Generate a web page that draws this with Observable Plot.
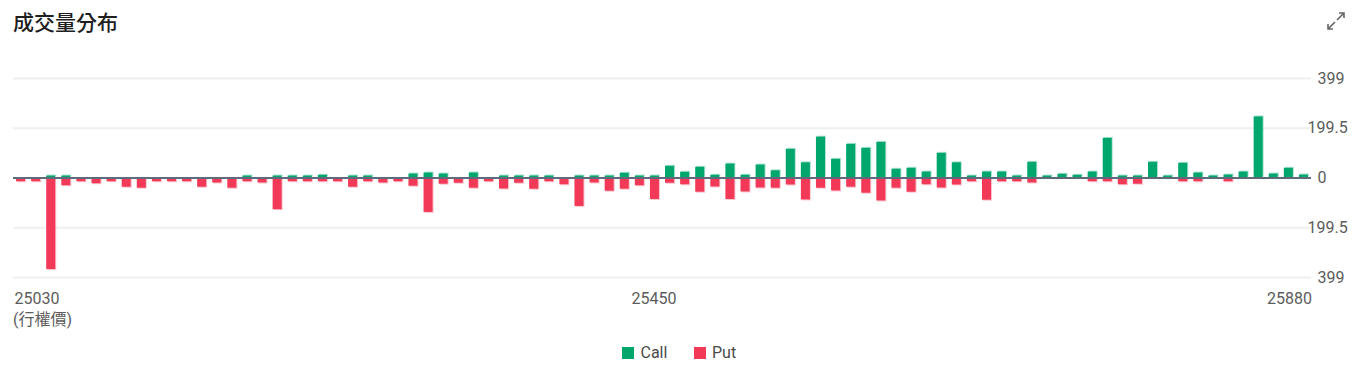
<!DOCTYPE html>
<html><head><meta charset="utf-8">
<script src="https://cdn.jsdelivr.net/npm/d3@7"></script>
<script src="https://cdn.jsdelivr.net/npm/@observablehq/plot@0.6"></script>
<style>
body{margin:0;background:#fff;width:1364px;height:367px;position:relative;overflow:hidden;font-family:Roboto,"Noto Sans CJK TC",sans-serif;}
#title{position:absolute;left:13px;top:10.5px;font-size:21px;line-height:21px;color:#1f1f1f;font-family:"Noto Sans CJK TC",sans-serif;font-weight:500;}
#chart{position:absolute;left:0;top:0;}
#xlabel{position:absolute;left:13px;top:312px;font-size:16px;line-height:16px;color:#5c5c5c;font-family:Roboto,"Noto Sans CJK TC",sans-serif;}
.sw{position:absolute;width:12px;height:12px;top:347px;}
.lt{position:absolute;top:344.5px;font-size:16px;line-height:16px;color:#4a4a4a;}
#icon{position:absolute;left:1326px;top:11px;}
</style></head>
<body>
<div id="title">成交量分布</div>
<svg id="icon" width="20" height="20" viewBox="0 0 20 20" fill="none" stroke="#666" stroke-width="1.6">
  <path d="M11 9 L18 2 M13 2 L18 2 L18 7"/>
  <path d="M9 11 L2 18 M2 13 L2 18 L7 18"/>
</svg>
<div id="chart"></div>
<div id="xlabel">(行權價)</div>
<div class="sw" style="left:622px;background:#00a76d"></div><div class="lt" style="left:640.5px">Call</div>
<div class="sw" style="left:694px;background:#f23a58"></div><div class="lt" style="left:712px">Put</div>
<script>
const strikes = [
25030,25040,25050,25060,25070,25080,25090,25100,25110,25120,
25130,25140,25150,25160,25170,25180,25190,25200,25210,25220,
25230,25240,25250,25260,25270,25280,25290,25300,25310,25320,
25330,25340,25350,25360,25370,25380,25390,25400,25410,25420,
25430,25440,25450,25460,25470,25480,25490,25500,25510,25520,
25530,25540,25550,25560,25570,25580,25590,25600,25610,25620,
25630,25640,25650,25660,25670,25680,25690,25700,25710,25720,
25730,25740,25750,25760,25770,25780,25790,25800,25810,25820,
25830,25840,25850,25860,25870,25880];
const calls = [
0,0,8,8,0,0,0,0,0,0,
0,0,0,0,0,8,0,8,8,8,
11,0,8,8,0,0,16,20,16,0,
20,0,8,8,8,8,0,8,8,8,
19,8,8,47,23,43,11,56,11,52,
29,115,61,164,75,135,119,143,35,39,
24,99,61,8,24,24,8,63,8,15,
11,24,159,8,8,63,8,59,20,8,
12,24,245,16,39,12];
const puts = [
15,15,367,31,15,23,15,37,41,15,
15,15,37,20,41,15,20,127,15,15,
15,15,37,15,20,15,33,138,25,21,
41,15,44,21,45,15,27,114,20,53,
45,31,86,21,27,57,36,86,56,40,
41,28,88,41,52,37,61,92,41,57,
27,40,28,15,89,15,15,20,0,0,
0,15,15,27,25,0,0,15,15,0,
15,0,0,0,0,0];
const seriesNames = ["Call","Put"];
const seriesColors = ["#00a76d","#f23a58"];
const yTicksMain = [399, 0, -399];
const yTicksHalf = [199.5, -199.5];
const gridValues = [399, 199.5, -199.5, -399];
const xTickStart = [25030], xTickMid = [25450], xTickEnd = [25880];

const callRows = strikes.map((s,i)=>({strike:s, type:"Call", v:calls[i]}));
const putRows = strikes.map((s,i)=>({strike:s, type:"Put", v:-puts[i]}));

const fmt = d => String(Math.abs(d));
const xfmt = d => String(d);
const chart = Plot.plot({
  width:1364, height:330,
  marginTop:78, marginBottom:53, marginLeft:13, marginRight:53,
  style:{fontFamily:"Roboto, sans-serif", fontSize:"16px", color:"#5c5c5c", background:"transparent"},
  x:{type:"band", domain:strikes, paddingInner:0.4, paddingOuter:0.2, round:false, label:null},
  y:{domain:[-399,399], label:null},
  color:{domain:seriesNames, range:seriesColors},
  marks:[
    Plot.ruleY(gridValues, {stroke:"#efefef", strokeWidth:2}),
    Plot.barY(callRows, {x:"strike", y:"v", fill:"type", fillOpacity:0.3, dx:1, dy:-1}),
    Plot.barY(putRows, {x:"strike", y:"v", fill:"type", fillOpacity:0.3, dx:1, dy:1}),
    Plot.barY(callRows, {x:"strike", y:"v", fill:"type"}),
    Plot.barY(putRows, {x:"strike", y:"v", fill:"type"}),
    Plot.ruleY([0], {stroke:"#5f6a7a", strokeWidth:2}),
    Plot.axisX(xTickStart, {tickSize:0, tickPadding:15, tickFormat:xfmt, textAnchor:"start", dx:-6.5}),
    Plot.axisX(xTickMid, {tickSize:0, tickPadding:15, tickFormat:xfmt, textAnchor:"middle", dx:-1}),
    Plot.axisX(xTickEnd, {tickSize:0, tickPadding:15, tickFormat:xfmt, textAnchor:"end", dx:8}),
    Plot.axisY(yTicksMain, {anchor:"right", tickSize:0, tickPadding:6, tickFormat:fmt, textAnchor:"start"}),
    Plot.axisY(yTicksHalf, {anchor:"right", tickSize:0, tickPadding:6, tickFormat:fmt, textAnchor:"start", dx:-10})
  ]
});
document.getElementById("chart").appendChild(chart);
</script>
</body></html>
